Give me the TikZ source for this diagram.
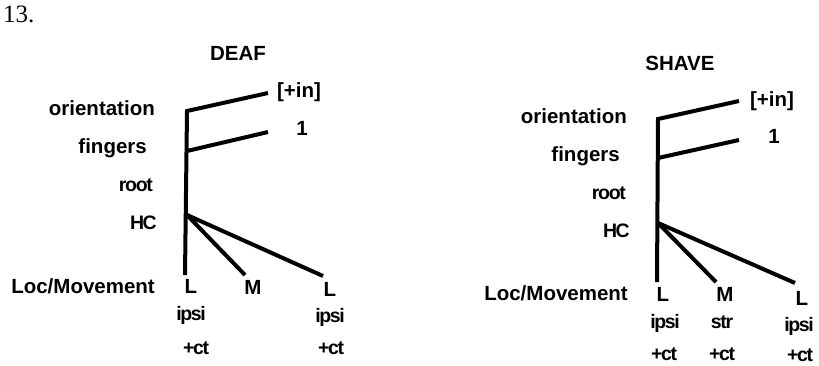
\documentclass[tikz,border=0pt]{standalone}
\usepackage{fontspec}
\setmainfont{Liberation Sans}
\newfontfamily\seriffam{Liberation Serif}
\begin{document}
\begin{tikzpicture}[x=1pt,y=-1pt,
  br/.style={line width=4pt},
  lab/.style={inner sep=0pt, anchor=base, font=\bfseries\fontsize{20.5}{24}\selectfont},
  lft/.style={lab, anchor=base east},
  sm/.style={inner sep=0pt, anchor=base, font=\bfseries\fontsize{19.5}{22}\selectfont\addfontfeature{LetterSpace=-7}}]
\useasboundingbox (0,0) rectangle (819,365);
\node[inner sep=0pt, anchor=base west, font=\seriffam\fontsize{25}{27}\selectfont] (num) at (3,22.5) {13.};
% ---------- DEAF ----------
\node[lab] (deaf) at (238,60) {DEAF};
\node[lab] (in1) at (299,97) {[+in]};
\node[lab] (one1) at (302,135) {1};
\node[lft] (or1) at (155,115) {orientation};
\node[lft] (fi1) at (147,153) {fingers};
\node[sm, anchor=base east] (ro1) at (153,191) {root};
\node[sm, anchor=base east] (hc1) at (157,229) {HC};
\node[lft] (lm1) at (155,293) {Loc/Movement};
\node[lab] (la1) at (191,293) {L};
\node[lab] (ma1) at (253,294) {M};
\node[lab] (lb1) at (330,296) {L};
\node[sm] (ip1) at (191,320) {ipsi};
\node[sm] (ct1) at (196,354) {+ct};
\node[sm] (ip2) at (330,322) {ipsi};
\node[sm] (ct2) at (331,354) {+ct};
\coordinate (o1) at (187,111);
\coordinate (f1) at (187,151);
\coordinate (h1) at (187,215);
\coordinate (oe1) at (268,93);
\coordinate (fe1) at (268,132);
\coordinate (b1) at (185,275);
\coordinate (m1) at (245,275);
\coordinate (r1) at (323,276);
\draw[br] (oe1) -- (o1) -- (b1);
\draw[br] (f1) -- (fe1);
\draw[br] (h1) -- (m1);
\draw[br] (h1) -- (r1);
% ---------- SHAVE ----------
\node[lab] (shave) at (680,70) {SHAVE};
\node[lab] (in2) at (772,106) {[+in]};
\node[lab] (one2) at (774,143) {1};
\node[lft] (or2) at (627,123) {orientation};
\node[lft] (fi2) at (620,161) {fingers};
\node[sm, anchor=base east] (ro2) at (626,199) {root};
\node[sm, anchor=base east] (hc2) at (630,237) {HC};
\node[lft] (lm2) at (628,300) {Loc/Movement};
\node[lab] (la2) at (663,301) {L};
\node[lab] (ma2) at (725,301) {M};
\node[lab] (lb2) at (802,305) {L};
\node[sm] (ip3) at (665,328) {ipsi};
\node[sm] (st3) at (722,328) {str};
\node[sm] (ip4) at (799,331) {ipsi};
\node[sm] (ct3) at (664,360) {+ct};
\node[sm] (ct4) at (722,360) {+ct};
\node[sm] (ct5) at (800,361) {+ct};
\coordinate (o2) at (658,119);
\coordinate (f2) at (658,158);
\coordinate (h2) at (658,223);
\coordinate (oe2) at (739,101);
\coordinate (fe2) at (739,140);
\coordinate (b2) at (657,282);
\coordinate (m2) at (716,282);
\coordinate (r2) at (795,283);
\draw[br] (oe2) -- (o2) -- (b2);
\draw[br] (f2) -- (fe2);
\draw[br] (h2) -- (m2);
\draw[br] (h2) -- (r2);
\end{tikzpicture}
\end{document}
